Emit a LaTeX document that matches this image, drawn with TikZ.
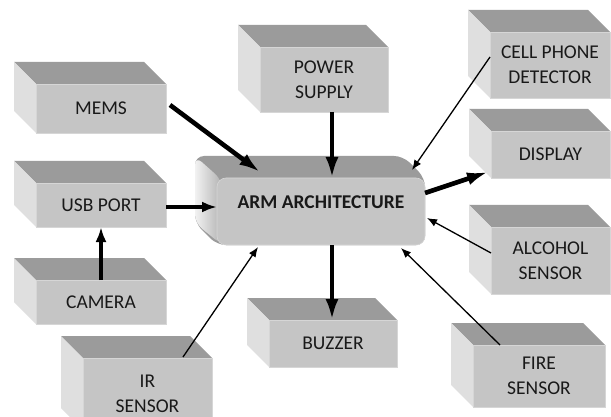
\documentclass[tikz,border=0pt]{standalone}
\usepackage{fontspec}
\setmainfont{Carlito}
\usetikzlibrary{arrows.meta,calc}
\definecolor{frontc}{HTML}{C5C5C5}
\definecolor{topc}{HTML}{9B9B9B}
\definecolor{sidec}{HTML}{DFDFDF}
\definecolor{edgec}{HTML}{D6D6D6}
\tikzset{
  cubefront/.style={fill=frontc, draw=edgec, line width=0.6pt, inner sep=0pt, outer sep=0pt,
    align=center, font=\fontsize{19.5}{25}\selectfont, text=black!90},
  thickarrow/.style={line width=4.6pt, -{Latex[length=21pt,width=13pt]}},
  midarrow/.style={line width=4pt, -{Latex[length=15pt,width=11pt]}},
  thinarrow/.style={line width=1.3pt, -{Latex[length=10pt,width=8pt]}},
}
% name, x1, y1, x2, y2, text
\newcommand\cubebox[6]{%
  \fill[topc] (#2,#3) -- (#2-22,#3-22) -- (#4-22,#3-22) -- (#4,#3) -- cycle;
  \fill[sidec] (#2,#3) -- (#2-22,#3-22) -- (#2-22,#5-22) -- (#2,#5) -- cycle;
  \node[cubefront, minimum width={#4-#2}, minimum height={#5-#3}, anchor=north west] (#1) at (#2,#3) {#6};
}
\begin{document}
\begin{tikzpicture}[x=1pt,y=-1pt]
\useasboundingbox (0,0) rectangle (611,417);
\clip (0,0) rectangle (611,417);
\fill[white] (0,0) rectangle (611,417);

\cubebox{mems}{36}{84}{166}{133}{MEMS}
\cubebox{usb}{36}{183}{166}{227}{USB PORT}
\cubebox{camera}{36}{280}{166}{324}{CAMERA}
\cubebox{ir}{83}{358}{212}{430}{IR\\SENSOR}
\cubebox{power}{260}{47}{388}{112}{POWER\\SUPPLY}
\cubebox{buzzer}{269}{320}{397}{367}{BUZZER}
\cubebox{cell}{490}{32}{610}{98}{CELL PHONE\\DETECTOR}
\cubebox{display}{491}{131}{610}{178}{DISPLAY}
\cubebox{alcohol}{491}{227}{610}{294}{ALCOHOL\\SENSOR}
\cubebox{fire}{473}{345}{605}{407}{FIRE\\SENSOR}

% central rounded block
\fill[topc, rounded corners=9pt] (195,156) -- (403,156) -- (425,178) -- (425,245) -- (217,245) -- (195,223) -- cycle;
\shade[left color=sidec!40!white, right color=frontc!90!black, rounded corners=9pt] (195,156) -- (222,180) -- (222,245) -- (195,223) -- cycle;
\node[cubefront, rounded corners=9pt, minimum width=208pt, minimum height=67pt, anchor=north west] (arm) at (217,178)
  {\raisebox{9pt}[\height][\depth]{\bfseries ARM ARCHITECTURE}};

% connectors
\draw[thickarrow] ([shift={(4,-3.5)}]mems.east) -- ([shift={(43,-6)}]arm.north west);
\draw[thickarrow] ([shift={(8,0)}]power.south) -- ([shift={(8,0)}]power.south |- arm.north);
\draw[thinarrow] ([shift={(0,-8)}]cell.west) -- ([shift={(-13,-8)}]arm.north east);
\draw[thickarrow] ([shift={(0,-18.5)}]arm.east) -- ([shift={(-3,-6)}]display.south west);
\draw[thinarrow] ([shift={(0,-7.5)}]alcohol.west) -- ([shift={(2,6.5)}]arm.east);
\draw[thinarrow] ([shift={(27,0)}]fire.north west) -- ([shift={(-24,3)}]arm.south east);
\draw[thinarrow] ([shift={(-29,-1)}]ir.north east) -- ([shift={(41,2)}]arm.south west);
\draw[thickarrow] ([shift={(11,0)}]arm.south) -- ([shift={(11,0)}]arm.south |- buzzer.north);
\draw[midarrow] ([shift={(0,2)}]usb.east) -- ([shift={(0,2)}]usb.east -| arm.west);
\draw[midarrow] (camera.north) -- (usb.south);
\end{tikzpicture}
\end{document}
